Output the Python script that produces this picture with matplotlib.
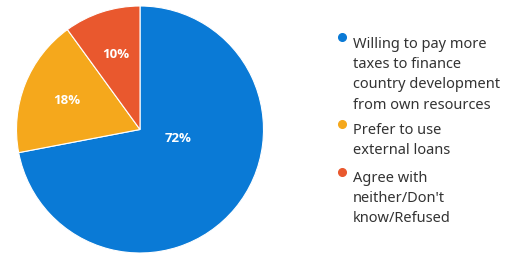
import matplotlib.pyplot as plt
from matplotlib.lines import Line2D

# data
labels = [
    "Willing to pay more\ntaxes to finance\ncountry development\nfrom own resources",
    "Prefer to use\nexternal loans",
    "Agree with\nneither/Don't\nknow/Refused",
]
values = [72, 18, 10]
colors = ["#0A7AD6", "#F5A81C", "#E9582E"]

W, H = 516, 260
plt.rcParams['font.family'] = ['Noto Sans', 'DejaVu Sans']

fig = plt.figure(figsize=(W / 100, H / 100), dpi=100)
ax = fig.add_axes([16 / W, 7 / H, 248 / W, 247 / H])

wedges, texts, autotexts = ax.pie(
    values, colors=colors, startangle=90, counterclock=False,
    autopct=lambda p: f"{p:.0f}%", pctdistance=0.64,
    wedgeprops=dict(edgecolor="white", linewidth=0.8),
    textprops=dict(color="white", fontsize=9.5, fontweight="bold",
                   family=["Open Sans", "DejaVu Sans"]),
)
# big slice label sits near the centre, right of the middle
autotexts[0].set_position((0.31, -0.07))
ax.set_xlim(-1, 1)
ax.set_ylim(-1, 1)
ax.set_aspect("equal")

# legend drawn by hand so the bullet sits on the first line
text_x = 353 / W
bullet_x = 342 / W
tops = [37, 123, 171]
for lab, col, top in zip(labels, colors, tops):
    y = 1 - top / H
    fig.text(text_x, y, lab, ha="left", va="top", fontsize=10.5,
             color="#333333", linespacing=1.47)
    fig.add_artist(Line2D([bullet_x], [1 - (top + 0.5) / H], marker="o",
                          markersize=5.5, color=col, linestyle="none",
                          transform=fig.transFigure))

fig.savefig("out.png", dpi=100)
